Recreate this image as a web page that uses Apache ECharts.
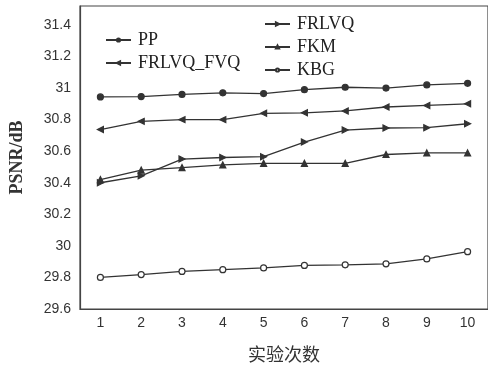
<!DOCTYPE html>
<html><head><meta charset="utf-8">
<script src="https://cdn.jsdelivr.net/npm/echarts@6/dist/echarts.min.js"></script>
<style>html,body{margin:0;padding:0;background:#fff}#c{width:488px;height:368px}</style>
</head><body><div id="c"></div>
<script>
var categories = ['1','2','3','4','5','6','7','8','9','10'];
var PP = [30.944,30.946,30.960,30.970,30.965,30.990,31.005,31.000,31.020,31.030];
var FRLVQ_FVQ = [30.737,30.789,30.800,30.800,30.840,30.843,30.855,30.880,30.890,30.900];
var FRLVQ = [30.400,30.444,30.550,30.560,30.565,30.658,30.734,30.747,30.749,30.774];
var FKM = [30.420,30.480,30.496,30.513,30.523,30.523,30.523,30.579,30.589,30.589];
var KBG = [29.800,29.818,29.838,29.849,29.860,29.876,29.880,29.886,29.917,29.963];
var yTicks = [29.6,29.8,30,30.2,30.4,30.6,30.8,31,31.2,31.4];

var lineColor = '#333';
function mk(name, data, symbol, rot, fill){
  return {
    name: name, type: 'line', data: data, symbol: symbol, symbolSize: symbol==='circle'?6:6,
    symbolRotate: rot, showSymbol: true,
    lineStyle: {color: lineColor, width: 1.3},
    itemStyle: {color: fill ? lineColor : '#fff', borderColor: lineColor, borderWidth: 1.2},
    animation: false
  };
}
var chart = echarts.init(document.getElementById('c'));
var legendText = {fontFamily: 'Liberation Serif', fontSize: 18, color: '#222', padding: [0,0,0,2]};
chart.setOption({
  backgroundColor: '#fff',
  animation: false,
  grid: {left: 73, top: 6, width: 417, bottom: 53, show: true, borderColor: '#444', borderWidth: 1.2},
  legend: [
    {data: ['PP','FRLVQ_FVQ'], orient: 'vertical', left: 100, top: 26, itemWidth: 25, itemHeight: 4, itemGap: 5,
     textStyle: legendText},
    {data: ['FRLVQ','FKM','KBG'], orient: 'vertical', left: 259, top: 10, itemWidth: 25, itemHeight: 4, itemGap: 5,
     textStyle: legendText}
  ],
  xAxis: {
    type: 'category', data: categories, boundaryGap: true,
    axisLine: {lineStyle: {color: '#444', width: 1.2}},
    axisTick: {inside: true, length: 5, alignWithLabel: true, lineStyle: {color: '#444'}},
    axisLabel: {fontFamily: 'Liberation Sans', fontSize: 14, color: '#333', margin: 7},
    splitLine: {show: false},
    name: '实验次数', nameLocation: 'middle', nameGap: 36,
    nameTextStyle: {fontFamily: 'Noto Sans CJK SC', fontSize: 18, color: '#333'}
  },
  yAxis: {
    type: 'value', min: 29.6, max: 31.52, interval: 0.2,
    axisLine: {show: true, lineStyle: {color: '#444', width: 1.2}},
    axisTick: {inside: true, length: 5, lineStyle: {color: '#444'}},
    axisLabel: {fontFamily: 'Liberation Sans', fontSize: 14, color: '#333', margin: 9, showMaxLabel: false,
      formatter: function(v){ var r = Math.round(v*10)/10; return yTicks.indexOf(r) >= 0 && Math.abs(r-v)<1e-6 ? String(r) : ''; }},
    splitLine: {show: false},
    name: 'PSNR/dB', nameLocation: 'middle', nameGap: 54, nameRotate: 90,
    nameTextStyle: {fontFamily: 'Liberation Serif', fontWeight: 'bold', fontSize: 18, color: '#333'}
  },
  series: [
    mk('PP', PP, 'circle', 0, true),
    mk('FRLVQ_FVQ', FRLVQ_FVQ, 'triangle', 90, true),
    mk('FRLVQ', FRLVQ, 'triangle', -90, true),
    mk('FKM', FKM, 'triangle', 0, true),
    mk('KBG', KBG, 'circle', 0, false)
  ]
});
</script></body></html>
